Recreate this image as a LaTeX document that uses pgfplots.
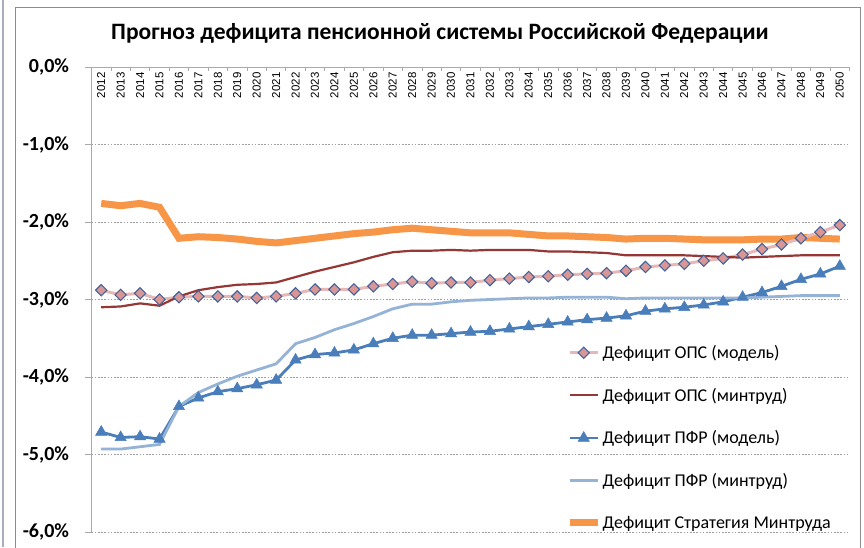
\documentclass[border=0pt]{standalone}
\usepackage{fontspec}
\setmainfont{Carlito}
\newfontfamily\yearfont{Liberation Sans}
\usepackage{pgfplots}
\usepackage{pgfplotstable}
\pgfplotsset{compat=1.18}
\definecolor{pinkline}{RGB}{230,184,183}
\definecolor{pinkfill}{RGB}{217,150,148}
\definecolor{diaedge}{RGB}{70,100,155}
\definecolor{darkred}{RGB}{149,55,53}
\definecolor{blue1}{RGB}{74,126,187}
\definecolor{lblue}{RGB}{149,179,215}
\definecolor{orange1}{RGB}{247,150,70}
\definecolor{axgray}{RGB}{170,170,170}
\pgfplotstableread{
year pink red blue lblue orange
2012 -2.88 -3.10 -4.71 -4.93 -1.76
2013 -2.94 -3.09 -4.78 -4.93 -1.79
2014 -2.92 -3.05 -4.77 -4.90 -1.76
2015 -3.00 -3.08 -4.80 -4.87 -1.81
2016 -2.97 -2.96 -4.38 -4.38 -2.21
2017 -2.96 -2.88 -4.27 -4.20 -2.19
2018 -2.96 -2.84 -4.19 -4.09 -2.20
2019 -2.96 -2.81 -4.15 -3.99 -2.22
2020 -2.98 -2.80 -4.10 -3.91 -2.25
2021 -2.96 -2.78 -4.04 -3.83 -2.27
2022 -2.92 -2.71 -3.78 -3.57 -2.24
2023 -2.87 -2.64 -3.71 -3.49 -2.21
2024 -2.87 -2.58 -3.69 -3.39 -2.18
2025 -2.87 -2.52 -3.65 -3.31 -2.15
2026 -2.83 -2.45 -3.57 -3.22 -2.13
2027 -2.80 -2.39 -3.50 -3.12 -2.10
2028 -2.77 -2.37 -3.46 -3.06 -2.08
2029 -2.79 -2.37 -3.46 -3.06 -2.10
2030 -2.78 -2.36 -3.44 -3.03 -2.12
2031 -2.78 -2.37 -3.42 -3.01 -2.14
2032 -2.75 -2.36 -3.41 -3.00 -2.14
2033 -2.73 -2.36 -3.38 -2.99 -2.14
2034 -2.71 -2.36 -3.35 -2.98 -2.16
2035 -2.70 -2.38 -3.32 -2.98 -2.18
2036 -2.68 -2.38 -3.29 -2.97 -2.18
2037 -2.67 -2.39 -3.26 -2.97 -2.19
2038 -2.66 -2.40 -3.24 -2.97 -2.20
2039 -2.63 -2.43 -3.21 -2.99 -2.22
2040 -2.58 -2.43 -3.15 -2.98 -2.21
2041 -2.56 -2.43 -3.12 -2.98 -2.21
2042 -2.54 -2.43 -3.10 -2.98 -2.22
2043 -2.50 -2.44 -3.07 -2.98 -2.23
2044 -2.47 -2.45 -3.03 -2.98 -2.23
2045 -2.42 -2.46 -2.97 -2.98 -2.23
2046 -2.35 -2.45 -2.91 -2.97 -2.22
2047 -2.29 -2.44 -2.83 -2.96 -2.22
2048 -2.21 -2.43 -2.74 -2.95 -2.20
2049 -2.13 -2.43 -2.67 -2.95 -2.21
2050 -2.04 -2.43 -2.57 -2.95 -2.22
}\datatable
\begin{document}
\begin{tikzpicture}
\path[use as bounding box] (0pt,0pt) rectangle (864pt,547pt);
\fill[white] (0pt,0pt) rectangle (864pt,547pt);
\draw[color={rgb,255:red,165;green,175;blue,190}, line width=2.5pt] (3pt,0pt) -- (3pt,547pt);
\draw[color={rgb,255:red,140;green,140;blue,140}, line width=0.8pt] (15pt,-5pt) -- (15pt,540pt) -- (860pt,540pt) -- (860pt,-5pt);
\node[font=\fontsize{23.5}{28}\selectfont\bfseries] at (440pt,514pt) {Прогноз дефицита пенсионной системы Российской Федерации};
\begin{axis}[
  at={(91.5pt,15pt)}, anchor=south west,
  scale only axis, width=758pt, height=465pt,
  xmin=2011.5, xmax=2050.5, ymin=-6, ymax=0,
  axis x line*=top, axis y line*=left,
  axis line style={axgray, line width=0.9pt},
  xtick={2012,...,2050},
  minor xtick={2011.5,2012.5,...,2050.5},
  major x tick style={draw=none},
  minor x tick style={axgray, line width=0.8pt, yshift=-4pt},
  minor tick length=4pt,
  major tick length=7pt,
  tick align=outside,
  y tick style={axgray, line width=0.8pt},
  xticklabel style={font=\yearfont\fontsize{11.5}{13}\selectfont, rotate=90, anchor=east, /pgf/number format/1000 sep={}, /pgf/number format/assume math mode=true},
  xticklabel shift=-9pt,
  ytick={-6,-5,-4,-3,-2,-1,0},
  yticklabels={{-6,0\%},{-5,0\%},{-4,0\%},{-3,0\%},{-2,0\%},{-1,0\%},{0,0\%}},
  yticklabel style={font=\fontsize{20}{24}\selectfont\bfseries, xshift=-12pt},
  ymajorgrids,
  major grid style={color={rgb,255:red,160;green,160;blue,160}, dash pattern=on 1.6pt off 1.6pt, line width=0.8pt},
  legend cell align=left,
  legend style={at={(0.626,0.405)}, anchor=north west, draw=none, fill=none,
    font=\fontsize{18}{21}\selectfont, row sep=25pt, inner sep=0pt, nodes={inner sep=1.5pt}},
  legend image code/.code={\draw[mark repeat=2,mark phase=2,#1] plot coordinates {(0pt,0pt) (14pt,0pt) (28pt,0pt)};},
]
\addplot[orange1, line width=7pt, forget plot] table[x=year,y=orange] {\datatable};
\addplot[pinkline, line width=3pt, mark=square*, mark size=4pt, mark options={rotate=45, fill=pinkfill, draw=diaedge, line width=1.1pt}] table[x=year,y=pink] {\datatable};
\addlegendentry{Дефицит ОПС (модель)}
\addplot[darkred, line width=2.2pt] table[x=year,y=red] {\datatable};
\addlegendentry{Дефицит ОПС (минтруд)}
\addplot[blue1, line width=2.8pt, mark=triangle*, mark size=6.5pt, mark options={fill=blue1, draw=blue1, line width=0.5pt}] table[x=year,y=blue] {\datatable};
\addlegendentry{Дефицит ПФР (модель)}
\addplot[lblue, line width=2.8pt] table[x=year,y=lblue] {\datatable};
\addlegendentry{Дефицит ПФР (минтруд)}
\addlegendimage{orange1, line width=7pt}
\addlegendentry{Дефицит Стратегия Минтруда}
\end{axis}
\end{tikzpicture}
\end{document}
